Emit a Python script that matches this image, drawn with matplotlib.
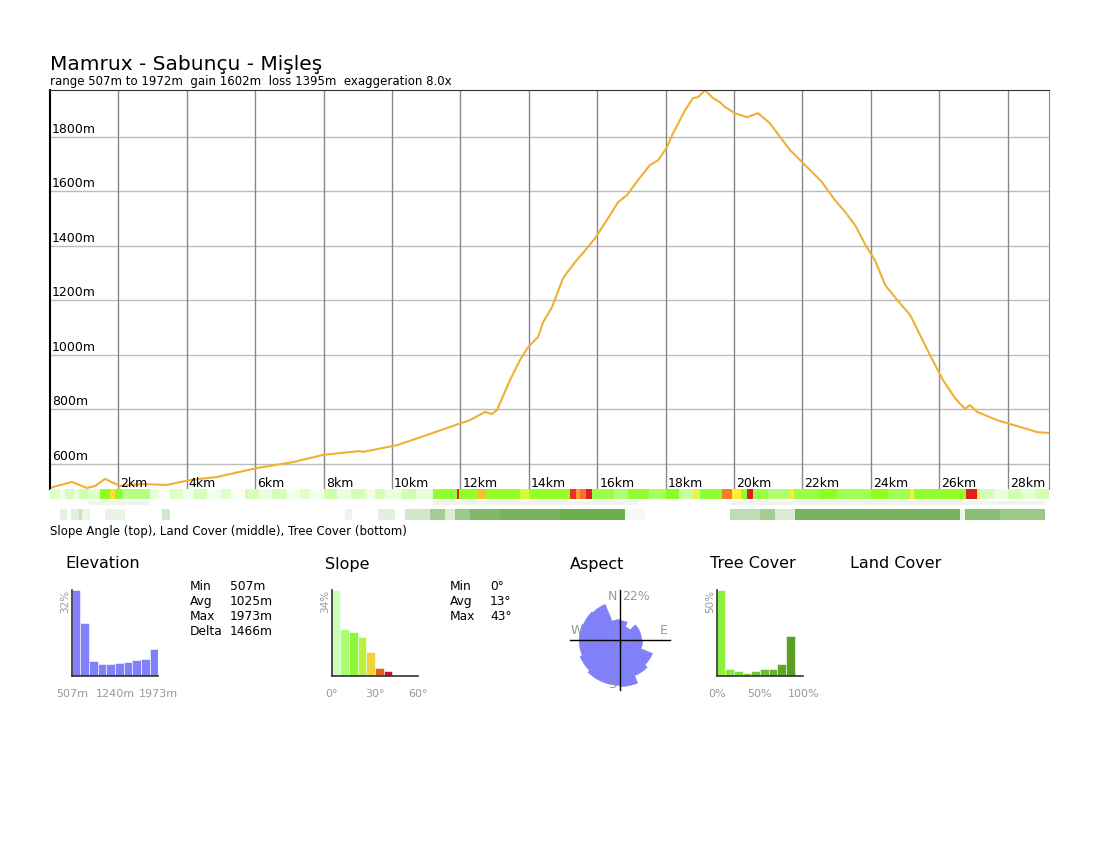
import numpy as np
import matplotlib
matplotlib.use("Agg")
import matplotlib.pyplot as plt
from matplotlib.colors import LinearSegmentedColormap

# --- data ---
title = "Mamrux - Sabunçu - Mişleş"
subtitle = "range 507m to 1972m  gain 1602m  loss 1395m  exaggeration 8.0x"
route_len_km = 29.21
elev_min, elev_max = 507, 1972

profile_km = [0.00, 0.64, 1.08, 1.32, 1.61, 2.05, 2.63, 3.42, 4.09, 4.88, 6.05, 7.11,
              7.98, 8.48, 9.06, 9.15, 10.15, 11.20, 11.70, 12.28, 12.72, 12.92, 13.07,
              13.45, 13.74, 13.98, 14.27, 14.42, 14.68, 15.00, 15.35, 15.58, 15.94,
              16.32, 16.61, 16.87, 17.19, 17.54, 17.78, 18.04, 18.19, 18.57, 18.80,
              18.95, 19.15, 19.39, 19.59, 19.74, 20.03, 20.38, 20.70, 21.05, 21.35,
              21.64, 22.08, 22.57, 22.95, 23.25, 23.54, 23.86, 24.12, 24.42, 24.77,
              25.15, 25.44, 25.73, 26.11, 26.46, 26.75, 26.90, 27.11, 27.69, 27.98,
              28.36, 28.86, 29.18]
profile_m = [511, 533, 511, 518, 544, 518, 525, 522, 540, 551, 584, 606,
             632, 639, 646, 643, 668, 713, 735, 760, 790, 782, 797,
             907, 980, 1028, 1065, 1120, 1175, 1281, 1340, 1373, 1428,
             1502, 1560, 1586, 1641, 1696, 1714, 1762, 1806, 1898, 1942,
             1946, 1971, 1942, 1927, 1909, 1887, 1872, 1887, 1850, 1799,
             1751, 1696, 1634, 1568, 1524, 1476, 1399, 1347, 1256, 1201,
             1146, 1072, 999, 907, 841, 801, 815, 790, 760, 749,
             735, 716, 713]

elev_ticks = [600, 800, 1000, 1200, 1400, 1600, 1800]
km_ticks = [2, 4, 6, 8, 10, 12, 14, 16, 18, 20, 22, 24, 26, 28]

# slope angle runs along the route (start km, degrees)
slope_start_km = [0, 0.3, 0.45, 0.7, 0.85, 1.1, 1.46, 1.75, 1.9, 2.1, 2.92, 3.2, 3.5, 3.9,
                  4.2, 4.6, 5.0, 5.3, 5.7, 6.1, 6.5, 6.9, 7.3, 7.6, 8.0, 8.4, 8.8, 9.2,
                  9.5, 9.8, 10.3, 10.7, 11.2, 11.9, 11.97, 12.5, 12.75, 13.74, 14.0,
                  15.2, 15.38, 15.5, 15.67, 15.85, 16.5, 16.9, 17.5, 18.0, 18.4, 18.8,
                  18.95, 19.0, 19.65, 19.94, 20.2, 20.38, 20.56, 21.0, 21.64, 21.75,
                  22.5, 23.0, 24.0, 24.5, 25.15, 25.26, 26.0, 26.78, 27.1, 27.2, 27.6,
                  28.0, 28.4, 28.8]
slope_deg = [5, 2, 6, 3, 7, 5, 16, 26, 16, 10, 4, 1, 5, 2,
             6, 2, 5, 1, 6, 3, 6, 2, 5, 2, 7, 3, 6, 2,
             6, 3, 7, 4, 15, 40, 17, 28, 17, 22, 17,
             38, 30, 33, 40, 14, 11, 15, 12, 16, 8, 25,
             9, 15, 32, 25, 15, 40, 14, 11, 25, 14,
             16, 13, 16, 13, 25, 15, 17, 40, 25, 6, 3,
             7, 4, 6]

# land cover runs (start km, class index)
land_start_km = [0, 1.1, 2.9, 11.2, 17.2, 19.9, 29.1]
land_class = [0, 1, 0, 1, 0, 1, 0]

# tree cover runs (start km, percent)
tree_start_km = [0, 0.29, 0.5, 0.6, 0.85, 0.95, 1.17, 1.61, 2.19, 3.27, 3.51, 8.63, 8.83,
                 9.59, 10.09, 10.38, 11.11, 11.55, 11.84, 12.28, 13.16, 14.91, 16.81,
                 17.4, 19.88, 20.76, 21.2, 21.78, 26.61, 26.75, 27.78, 29.1]
tree_pct = [0, 15, 0, 15, 30, 10, 0, 12, 0, 25, 0, 10, 0,
            15, 0, 25, 50, 20, 55, 70, 75, 80, 5,
            0, 35, 50, 20, 75, 10, 65, 55, 0]

# histograms
elev_hist_pct = [32, 19.8, 5.6, 4.5, 4.3, 4.8, 5.3, 6.0, 6.2, 9.9]
elev_hist_labels = ["507m", "1240m", "1973m"]
elev_stats = [("Min", "507m"), ("Avg", "1025m"), ("Max", "1973m"), ("Delta", "1466m")]

slope_hist_pct = [34, 18.4, 17.4, 15.3, 9.4, 3.3, 2.0]
slope_bin_deg = 6
slope_hist_labels = ["0°", "30°", "60°"]
slope_stats = [("Min", "0°"), ("Avg", "13°"), ("Max", "43°")]

tree_hist_pct = [50, 3.9, 3.1, 1.9, 2.7, 3.9, 4.3, 6.8, 23.3]
tree_hist_labels = ["0%", "50%", "100%"]

# aspect rose: 16 sectors of 22.5 deg starting at north, clockwise (percent)
aspect_pct = [8.5, 6.3, 9.5, 9.5, 10, 15.5, 17, 20.5, 20, 20, 19, 18, 18, 17.5, 17, 9]
aspect_max = 22

# --- figure ---
W, H = 1100, 850
fig = plt.figure(figsize=(11, 8.5), dpi=100)
fig.patch.set_facecolor("white")
GRAY = "#999999"


def px_axes(x0, y0, x1, y1, **kw):
    return fig.add_axes([x0 / W, 1 - y1 / H, (x1 - x0) / W, (y1 - y0) / H], **kw)


def px_text(x, y, s, **kw):
    return fig.text(x / W, 1 - y / H, s, **kw)


px_text(50, 64, title, fontsize=14.5, va="center", ha="left")
px_text(50, 81, subtitle, fontsize=8.5, va="center", ha="left")

# main elevation profile
ax = px_axes(50, 90, 1049, 489)
ax.set_xlim(0, route_len_km)
ax.set_ylim(elev_min, elev_max)
for v in elev_ticks:
    ax.axhline(v, color="#bbbbbb", lw=1, zorder=1)
    ax.text(0.05, v + 3, f"{v}m", fontsize=9, ha="left", va="bottom", zorder=3)
for k in km_ticks:
    ax.axvline(k, color="#888888", lw=1, zorder=1)
    ax.text(k + 0.06, elev_min - 2, f"{k}km", fontsize=9, ha="left", va="bottom", zorder=3)
ax.plot(profile_km, profile_m, color="#f0b035", lw=1.5, zorder=2)
ax.set_xticks([])
ax.set_yticks([])
ax.spines["bottom"].set_visible(False)
ax.spines["left"].set_color("black")
ax.spines["left"].set_linewidth(1.5)
ax.spines["top"].set_color("#333333")
ax.spines["right"].set_color("#888888")

# stripes
slope_cmap = LinearSegmentedColormap.from_list("slope", [
    (0, "#ffffff"), (4 / 45, "#e4ffd6"), (10 / 45, "#b6ff80"), (16 / 45, "#88ff22"),
    (21 / 45, "#c4ff33"), (25 / 45, "#ffee33"), (30 / 45, "#ff9933"),
    (35 / 45, "#ee5522"), (40 / 45, "#dd2222"), (1, "#cc0033")])
tree_cmap = LinearSegmentedColormap.from_list("tree", ["#ffffff", "#4a9a28"])
land_cmap = LinearSegmentedColormap.from_list("land", ["#ffffff", "#eef6ea"])


def stripe(y0, y1, starts, vals, cmap, vmax):
    sax = px_axes(50, y0, 1049, y1)
    edges = list(starts) + [route_len_km]
    sax.pcolormesh(edges, [0, 1], np.array([vals]), cmap=cmap, vmin=0, vmax=vmax)
    sax.set_xlim(0, route_len_km)
    sax.set_axis_off()


stripe(489, 499, slope_start_km, slope_deg, slope_cmap, 45)
stripe(501, 505, land_start_km, land_class, land_cmap, 1)
stripe(509, 520, tree_start_km, tree_pct, tree_cmap, 100)
px_text(50, 531, "Slope Angle (top), Land Cover (middle), Tree Cover (bottom)",
        fontsize=8.5, va="center", ha="left")

# section headings
for x, s in [(65, "Elevation"), (325, "Slope"), (570, "Aspect"),
             (710, "Tree Cover"), (850, "Land Cover")]:
    px_text(x, 564, s, fontsize=11.5, va="center", ha="left")


def small_hist(x0, vals, colors, nbins, top_label, tick_labels):
    hax = px_axes(x0, 590, x0 + 86.5, 676)
    hax.bar(np.arange(len(vals)), vals, width=1.0, align="edge", color=colors,
            edgecolor="white", linewidth=0.4)
    hax.set_xlim(0, nbins)
    hax.set_ylim(0, max(vals))
    hax.set_xticks([])
    hax.set_yticks([])
    for s in ["top", "right"]:
        hax.spines[s].set_visible(False)
    for s in ["left", "bottom"]:
        hax.spines[s].set_color("#333333")
        hax.spines[s].set_linewidth(1.2)
    hax.text(-0.08, 1.0, top_label, rotation=90, ha="center", va="top",
             fontsize=7.5, color=GRAY, transform=hax.transAxes)
    for frac, lab in zip([0, 0.5, 1], tick_labels):
        hax.text(frac, -0.21, lab, ha="center", va="center", fontsize=8,
                 color=GRAY, transform=hax.transAxes)
    return hax


# elevation histogram
small_hist(71.7, elev_hist_pct, "#8080f8", len(elev_hist_pct),
           f"{max(elev_hist_pct):.0f}%", elev_hist_labels)
for i, (k, v) in enumerate(elev_stats):
    px_text(190, 586 + i * 15.2, k, fontsize=8.8, va="center")
    px_text(230, 586 + i * 15.2, v, fontsize=8.8, va="center")

# slope histogram (60 degrees over the axis, bins of 6)
slope_colors = ["#c8ffb4", "#a8ff70", "#8cf83c", "#b4f43c", "#f0d23c", "#e0641e", "#c81432"]
small_hist(331.7, slope_hist_pct, slope_colors, 60 / slope_bin_deg,
           f"{max(slope_hist_pct):.0f}%", slope_hist_labels)
for i, (k, v) in enumerate(slope_stats):
    px_text(450, 586 + i * 15.2, k, fontsize=8.8, va="center")
    px_text(490, 586 + i * 15.2, v, fontsize=8.8, va="center")

# tree cover histogram (bins of 10%)
tree_colors = LinearSegmentedColormap.from_list("tc", ["#8cf03c", "#5a9e28"])(
    np.linspace(0, 1, len(tree_hist_pct)))
small_hist(716.7, tree_hist_pct, tree_colors, 10,
           f"{max(tree_hist_pct):.0f}%", tree_hist_labels)

# aspect rose
pax = px_axes(570, 590, 670, 690, projection="polar")
pax.set_theta_zero_location("N")
pax.set_theta_direction(-1)
nsec = len(aspect_pct)
sec = 2 * np.pi / nsec
theta = np.arange(nsec) * sec + sec / 2
pax.bar(theta, aspect_pct, width=sec, color="#8080f8", edgecolor="#8080f8", linewidth=0.3)
for t in [0, np.pi / 2, np.pi, 3 * np.pi / 2]:
    pax.plot([t, t], [0, aspect_max], color="black", lw=1, clip_on=False)
pax.set_ylim(0, aspect_max)
pax.set_axis_off()
px_text(612, 596, "N", fontsize=9, color=GRAY, ha="center", va="center")
px_text(622, 596, f"{aspect_max}%", fontsize=9, color=GRAY, ha="left", va="center")
px_text(577, 631, "W", fontsize=9, color=GRAY, ha="center", va="center")
px_text(664, 631, "E", fontsize=9, color=GRAY, ha="center", va="center")
px_text(612, 685, "S", fontsize=9, color=GRAY, ha="center", va="center")

fig.savefig("out.png", dpi=100)
